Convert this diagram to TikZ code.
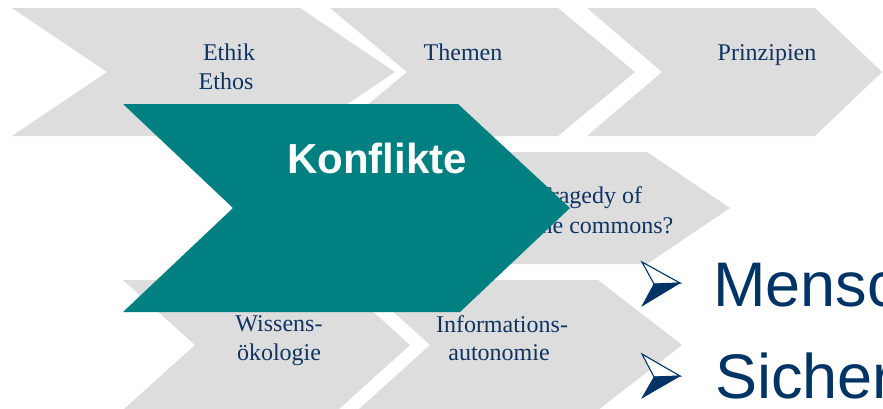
\documentclass[tikz,border=0pt]{standalone}
\usepackage{fontspec}
\setmainfont{Liberation Serif}
\newfontfamily\arialf{Liberation Sans}
\definecolor{chevgray}{RGB}{221,221,221}
\definecolor{tealc}{RGB}{0,128,128}
\definecolor{navyc}{RGB}{0,51,102}
\definecolor{txtc}{RGB}{15,52,100}
\tikzset{
  chev/.style={fill=chevgray, draw=none},
  tealchev/.style={fill=tealc, draw=none},
  lbl/.style={inner sep=0pt, outer sep=0pt, text=txtc, font=\fontsize{24}{29}\selectfont},
  bigtxt/.style={inner sep=0pt, outer sep=0pt, text=navyc, font=\arialf\fontsize{63}{70}\selectfont},
  bullup/.style={fill=white, draw=navyc, line width=1.1pt, line join=miter},
  bulldown/.style={fill=navyc, draw=navyc, line width=0.6pt, line join=miter}
}
\begin{document}
\begin{tikzpicture}[x=1pt,y=-1pt]
\path[use as bounding box] (0,0) rectangle (883,408);
\clip (0,0) rectangle (883,408);
\fill[white] (0,0) rectangle (883,408);
% top row
\path[chev] (12,8) -- (300,8) -- (395,72) -- (300,136) -- (12,136) -- (107,72) -- cycle;
\path[chev] (330,8) -- (558,8) -- (635,72) -- (558,136) -- (330,136) -- (407,72) -- cycle;
\path[chev] (587,8) -- (815,8) -- (882,72) -- (815,136) -- (587,136) -- (662,72) -- cycle;
% middle row
\path[chev] (420,152) -- (647,152) -- (730,208) -- (647,264) -- (420,264) -- (476,208) -- cycle;
% bottom row
\path[chev] (123,280) -- (338,280) -- (410,345) -- (338,410) -- (123,410) -- (195,345) -- cycle;
\path[chev] (358,280) -- (598,280) -- (682,345) -- (598,410) -- (358,410) -- (430,345) -- cycle;
% labels
\node[lbl, anchor=base] (ethik) at (229,60) {Ethik};
\node[lbl, anchor=base] (ethos) at (226,89) {Ethos};
\node[lbl, anchor=base] (themen) at (463,60) {Themen};
\node[lbl, anchor=base] (prinz) at (767,60) {Prinzipien};
\node[lbl, anchor=base west] (trag1) at (537,203) {Tragedy of};
\node[lbl, anchor=base west] (trag2) at (534,233) {the commons?};
\node[lbl, anchor=base] (wiss1) at (279,331) {Wissens-};
\node[lbl, anchor=base] (wiss2) at (279,360) {ökologie};
\node[lbl, anchor=base] (info1) at (502,332) {Informations-};
\node[lbl, anchor=base] (info2) at (499,360) {autonomie};
% teal chevron
\path[tealchev] (123,104) -- (458,104) -- (570,208) -- (460,312) -- (123,312) -- (233,208) -- cycle;
\node[inner sep=0pt, anchor=base, text=white, font=\arialf\bfseries\fontsize{42}{48}\selectfont] (konf) at (377,173) {Konflikte};
% bullets
\path[bullup] (642,262) -- (680,283) -- (654,284) -- cycle;
\path[bulldown] (654,284) -- (680,283) -- (642,306) -- cycle;
\path[bullup] (642,354) -- (680,376) -- (654,377) -- cycle;
\path[bulldown] (654,377) -- (680,376) -- (642,398) -- cycle;
\node[bigtxt, anchor=base west] (mensch) at (713,306) {Mensc};
\node[bigtxt, anchor=base west] (sicher) at (715,398) {Sicher};
\end{tikzpicture}
\end{document}
